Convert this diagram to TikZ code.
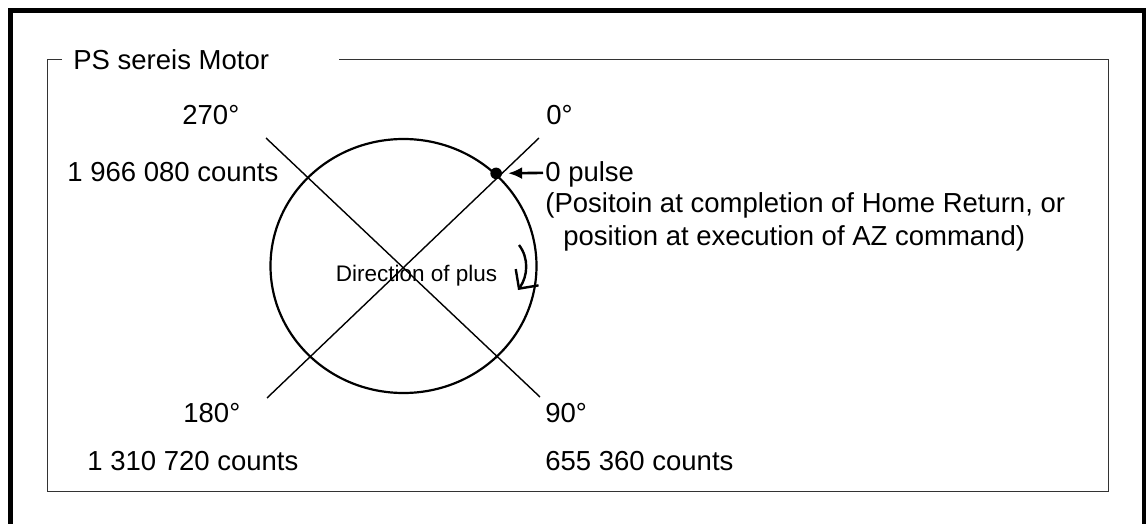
\documentclass[tikz,border=0pt]{standalone}
\usepackage{fontspec}
\setmainfont{Liberation Sans}
\usepackage{tikz}
\usetikzlibrary{arrows.meta,shapes.geometric}

\begin{document}
\begin{tikzpicture}[x=0.5pt,y=-0.5pt,
  lbl/.style={anchor=base west,inner sep=0pt,font=\fontsize{13.75}{16}\selectfont},
  diag/.style={line width=0.7pt},
  frame/.style={line width=0.65pt,draw=black!80}]
\useasboundingbox (0,0) rectangle (1146,524);
\draw[line width=2.5pt] (10.5,10.5) rectangle (1144.5,560);
% group frame with its title
\node[lbl] (title) at (73,70) {PS sereis Motor};
\coordinate (gapL) at (62,59.5);
\coordinate (gapR) at (339,59.5);
\draw[frame] (gapL) -| (47.5,491.5) -| (1108.5,59.5) -- (gapR);
% motor
\node[draw,ellipse,line width=1.1pt,minimum width=133pt,minimum height=127pt,inner sep=0pt] (motor) at (403.5,266) {};
\coordinate (nw) at (266,138);
\coordinate (se) at (540,397);
\coordinate (ne) at (539,138);
\coordinate (sw) at (267,398);
\draw[diag] (nw) -- (se);
\draw[diag] (ne) -- (sw);
\coordinate (zero) at (motor.45);
\fill (zero) circle (2.9pt);
% angle labels
\node[lbl] (a270) at (182,125) {270°};
\node[lbl] (a0) at (546,125) {0°};
\node[lbl] (a180) at (183,422) {180°};
\node[lbl] (a90) at (545,422) {90°};
\node[lbl] (c270) at (67,182) {1 966 080 counts};
\node[lbl] (c180) at (87,470) {1 310 720 counts};
\node[lbl] (c90) at (545,470) {655 360 counts};
% home position
\node[lbl] (pulse) at (545,182) {0 pulse};
\node[lbl] (home1) at (545,213) {(Positoin at completion of Home Return, or};
\node[lbl] (home2) at (563,245) {position at execution of AZ command)};
\draw[line width=1.3pt,-{Latex[length=7pt,width=6pt]},shorten >=6pt] ([xshift=-1pt,yshift=1pt]pulse.west) -- (zero);
% direction of plus
\node[inner sep=0pt,anchor=base,font=\fontsize{11.25}{13}\selectfont] (dir) at (416.5,281) {Direction of plus};
\coordinate (turnA) at (519,245);
\coordinate (turnB) at (518,290);
\draw[line width=1.2pt,-{Straight Barb[length=7pt,width=14pt]}] (turnA) .. controls (529,258) and (528,276) .. (turnB);
\end{tikzpicture}
\end{document}
